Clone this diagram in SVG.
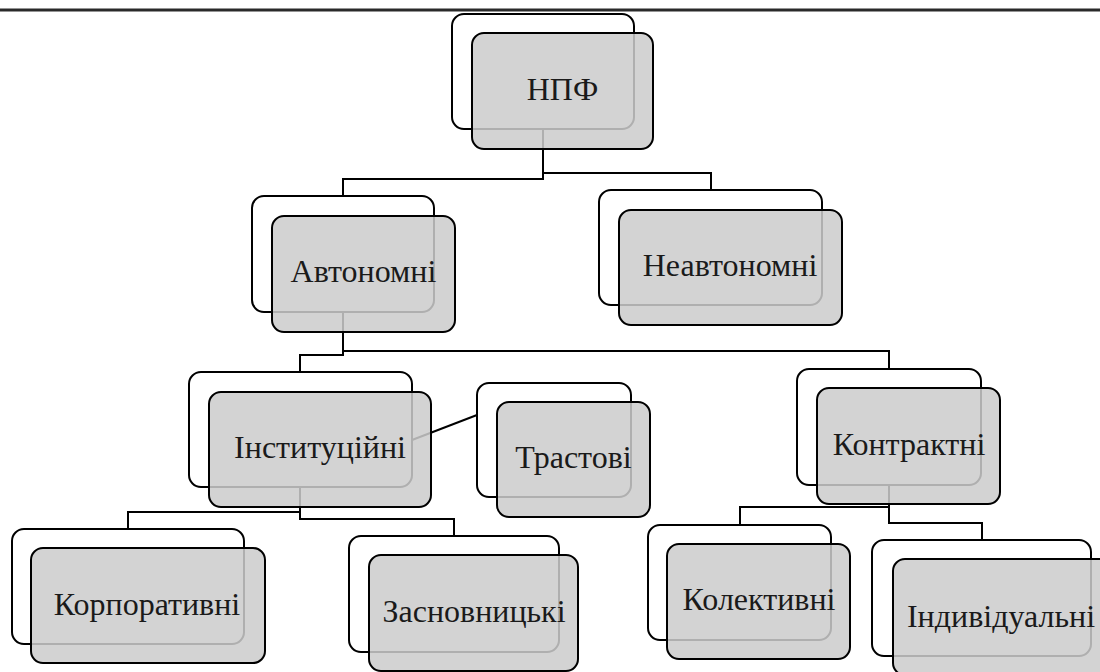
<svg xmlns="http://www.w3.org/2000/svg" width="1100" height="672" viewBox="0 0 1100 672">
  <style>
    .back { fill: #ffffff; stroke: #000000; stroke-width: 2; }
    .front { fill: #cccccc; fill-opacity: 0.86; stroke: #000000; stroke-width: 2; }
    .lbl { font-family: "Liberation Serif", "Times New Roman", serif; font-size: 32px; fill: #1a1a1a; text-anchor: middle; }
    .conn { fill: none; stroke: #000000; stroke-width: 2; }
  </style>
  <rect x="0" y="0" width="1100" height="672" fill="#ffffff"/>
  <line x1="0" y1="10" x2="1100" y2="10" stroke="#2a2a2a" stroke-width="3"/>
  <g id="connectors">
    <path class="conn" d="M543,129 V179 H343 V196"/>
    <path class="conn" d="M543,129 V173 H711 V190"/>
    <path class="conn" d="M343,312 V355 H300 V372"/>
    <path class="conn" d="M343,312 V351 H889 V369"/>
    <path class="conn" d="M300,487 V512 H128 V529"/>
    <path class="conn" d="M300,487 V519 H454 V536"/>
    <path class="conn" d="M412,440 L477,415"/>
    <path class="conn" d="M889,485 V507 H740 V525"/>
    <path class="conn" d="M889,485 V523 H982 V540"/>
  </g>
  <g id="node-npf">
    <rect class="back" x="452" y="14" width="182" height="115" rx="12"/>
    <rect class="front" x="472" y="33" width="181" height="116" rx="12"/>
    <text class="lbl" x="562.5" y="100">НПФ</text>
  </g>
  <g id="node-avtonomni">
    <rect class="back" x="252" y="196" width="182" height="116" rx="12"/>
    <rect class="front" x="272" y="216" width="183" height="116" rx="12"/>
    <text class="lbl" x="363.5" y="282">Автономні</text>
  </g>
  <g id="node-neavtonomni">
    <rect class="back" x="599" y="190" width="223" height="115" rx="12"/>
    <rect class="front" x="619" y="210" width="223" height="115" rx="12"/>
    <text class="lbl" x="730" y="276">Неавтономні</text>
  </g>
  <g id="node-instytutsiini">
    <rect class="back" x="189" y="372" width="223" height="115" rx="12"/>
    <rect class="front" x="209" y="392" width="222" height="115" rx="12"/>
    <text class="lbl" x="320" y="458">Інституційні</text>
  </g>
  <g id="node-trastovi">
    <rect class="back" x="477" y="383" width="154" height="114" rx="12"/>
    <rect class="front" x="497" y="402" width="153" height="115" rx="12"/>
    <text class="lbl" x="573.5" y="468">Трастові</text>
  </g>
  <g id="node-kontraktni">
    <rect class="back" x="797" y="369" width="184" height="116" rx="12"/>
    <rect class="front" x="817" y="388" width="183" height="116" rx="12"/>
    <text class="lbl" x="909" y="455">Контрактні</text>
  </g>
  <g id="node-korporatyvni">
    <rect class="back" x="12" y="529" width="232" height="115" rx="12"/>
    <rect class="front" x="31" y="548" width="234" height="115" rx="12"/>
    <text class="lbl" x="147" y="615">Корпоративні</text>
  </g>
  <g id="node-zasnovnytski">
    <rect class="back" x="349" y="536" width="210" height="116" rx="12"/>
    <rect class="front" x="369" y="555" width="209" height="116" rx="12"/>
    <text class="lbl" x="474" y="622">Засновницькі</text>
  </g>
  <g id="node-kolektyvni">
    <rect class="back" x="648" y="525" width="183" height="115" rx="12"/>
    <rect class="front" x="667" y="544" width="183" height="115" rx="12"/>
    <text class="lbl" x="759" y="610">Колективні</text>
  </g>
  <g id="node-indyvidualni">
    <rect class="back" x="872" y="540" width="219" height="116" rx="12"/>
    <rect class="front" x="893" y="559" width="219" height="116" rx="12"/>
    <text class="lbl" x="1001" y="627">Індивідуальні</text>
  </g>
</svg>
